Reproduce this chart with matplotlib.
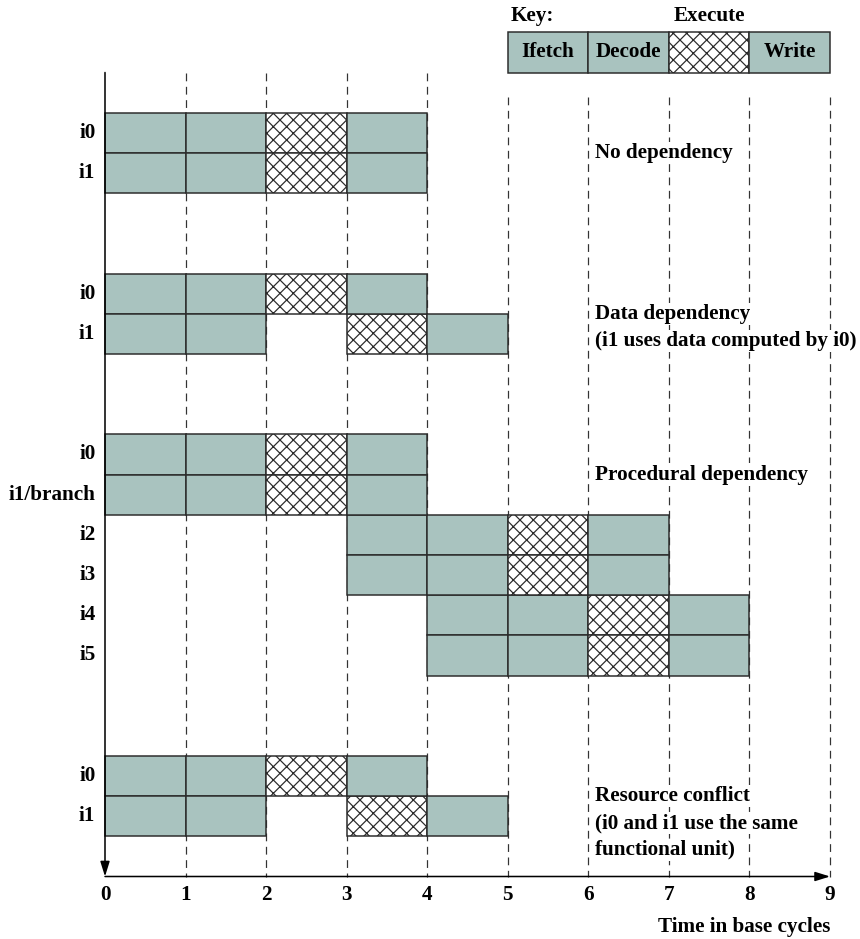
import matplotlib
matplotlib.use("Agg")
import matplotlib.pyplot as plt

# ---- data ----
row_labels = ["i0", "i1", "i0", "i1", "i0", "i1/branch", "i2", "i3", "i4", "i5", "i0", "i1"]
row_pos = [0, 1, 4, 5, 8, 9, 10, 11, 12, 13, 16, 17]
fetch_start = [0, 0, 0, 0, 0, 0, 3, 3, 4, 4, 0, 0]
decode_start = [1, 1, 1, 1, 1, 1, 4, 4, 5, 5, 1, 1]
execute_start = [2, 2, 2, 3, 2, 2, 5, 5, 6, 6, 2, 3]
write_start = [3, 3, 3, 4, 3, 3, 6, 6, 7, 7, 3, 4]

group_top = [0, 4, 8, 16]
group_notes = [
    ["No dependency"],
    ["Data dependency", "(i1 uses data computed by i0)"],
    ["Procedural dependency"],
    ["Resource conflict", "(i0 and i1 use the same", "functional unit)"],
]

key_stages = ["Ifetch", "Decode", "Execute", "Write"]
key_start = [5, 6, 7, 8]
time_ticks = list(range(10))

# ---- style ----
FILL = "#a9c3bf"
EDGE = "#2b2b2b"
FS = 19
plt.rcParams["font.family"] = ["Liberation Serif", "DejaVu Serif"]
plt.rcParams["font.weight"] = "bold"
plt.rcParams["hatch.linewidth"] = 1.1
plt.rcParams["lines.scale_dashes"] = False

DPI = 80
fig = plt.figure(figsize=(860 / DPI, 939 / DPI), dpi=DPI)
ax = fig.add_axes([0, 0, 1, 1])
ax.set_xlim(-105 / 80.56, (860 - 105) / 80.56)
ax.set_ylim((939 - 112.7) / 40.2, -112.7 / 40.2)
ax.axis("off")

# dashed time grid
for t in time_ticks[1:]:
    top = -1 if t <= 4 else -0.4
    ax.plot([t, t], [top, 19], color="#333333", lw=1.1, linestyle=(0, (7, 5)), zorder=1)

# pipeline stages
bar_kw = dict(height=1, align="edge", edgecolor=EDGE, linewidth=1.35, zorder=2)
ax.barh(row_pos, 1, left=fetch_start, color=FILL, **bar_kw)
ax.barh(row_pos, 1, left=decode_start, color=FILL, **bar_kw)
ax.barh(row_pos, 1, left=execute_start, color="white", hatch="xx", **bar_kw)
ax.barh(row_pos, 1, left=write_start, color=FILL, **bar_kw)

for lab, y in zip(row_labels, row_pos):
    ax.text(-0.12, y + 0.5, lab, ha="right", va="center", fontsize=FS, zorder=3)

# group descriptions
for top, lines in zip(group_top, group_notes):
    for k, line in enumerate(lines):
        ax.text(6.08, top + 1 + k * 0.67, line, ha="left", va="center", fontsize=FS, zorder=3,
                bbox=dict(facecolor="white", edgecolor="none", pad=1))

# key
for name, x in zip(key_stages, key_start):
    if name == "Execute":
        ax.barh([-2], 1, left=[x], color="white", hatch="xx", **bar_kw)
        ax.text(x + 0.5, -2.4, name, ha="center", va="center", fontsize=FS)
    else:
        ax.barh([-2], 1, left=[x], color=FILL, **bar_kw)
        ax.text(x + 0.5, -1.5, name, ha="center", va="center", fontsize=FS, zorder=3)
ax.text(5.03, -2.4, "Key:", ha="left", va="center", fontsize=FS)

# axes with arrows
arrow_kw = dict(arrowstyle="-|>,head_length=0.8,head_width=0.25", color="black", lw=1.4,
                shrinkA=0, shrinkB=0, mutation_scale=14)
ax.annotate("", xy=(0, 19), xytext=(0, -1), arrowprops=arrow_kw, zorder=4)
ax.annotate("", xy=(9, 19), xytext=(0, 19), arrowprops=arrow_kw, zorder=4)

for t in time_ticks:
    ax.text(t, 19.45, str(t), ha="center", va="center", fontsize=FS)
ax.text(9.0, 20.25, "Time in base cycles", ha="right", va="center", fontsize=FS)

fig.savefig("out.png", dpi=DPI)
